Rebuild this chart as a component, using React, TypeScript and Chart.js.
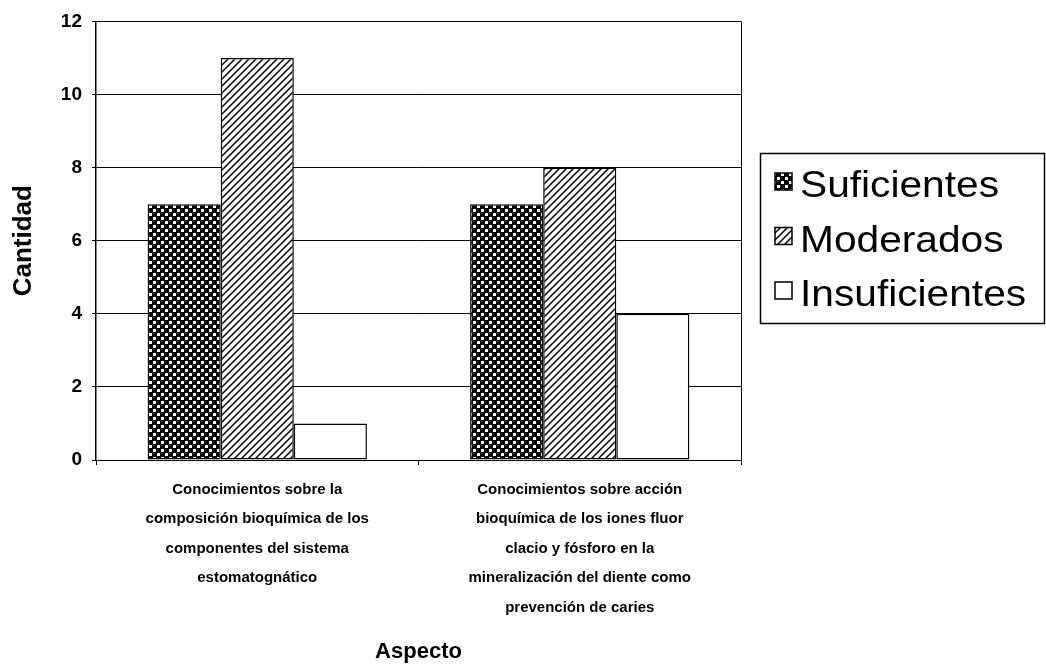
import React, { useEffect, useRef } from "react";
import { Chart, registerables } from "chart.js";

Chart.register(...registerables);

const categories: string[][] = [
  ["Conocimientos sobre la", "composición bioquímica de los", "componentes del sistema", "estomatognático"],
  ["Conocimientos sobre acción", "bioquímica de los iones fluor", "clacio y fósforo en la", "mineralización del diente como", "prevención de caries"],
];
const seriesNames = ["Suficientes", "Moderados", "Insuficientes"];
const suficientes = [7, 7];
const moderados = [11, 8];
const insuficientes = [1, 4];
const yTicks = [0, 2, 4, 6, 8, 10, 12];

const FONT = "'Liberation Sans', Arial, sans-serif";

function makeChecker(): CanvasPattern | string {
  const c = document.createElement("canvas");
  c.width = 8;
  c.height = 8;
  const g = c.getContext("2d");
  if (!g) return "#000";
  g.fillStyle = "#000";
  g.fillRect(0, 0, 8, 8);
  g.fillStyle = "#fff";
  g.fillRect(1, 1, 3, 3);
  g.fillRect(5, 5, 3, 3);
  return g.createPattern(c, "repeat") || "#000";
}

function makeHatch(): CanvasPattern | string {
  const s = 7;
  const c = document.createElement("canvas");
  c.width = s;
  c.height = s;
  const g = c.getContext("2d");
  if (!g) return "#fff";
  g.fillStyle = "#fff";
  g.fillRect(0, 0, s, s);
  g.strokeStyle = "#000";
  g.lineWidth = 1.5;
  g.beginPath();
  g.moveTo(-1, s + 1);
  g.lineTo(s + 1, -1);
  g.moveTo(-2, 2);
  g.lineTo(2, -2);
  g.moveTo(s - 2, s + 2);
  g.lineTo(s + 2, s - 2);
  g.stroke();
  return g.createPattern(c, "repeat") || "#fff";
}

const frameAndLegend = {
  id: "frameAndLegend",
  afterDraw(chart: any) {
    const ctx = chart.ctx as CanvasRenderingContext2D;
    const a = chart.chartArea;
    ctx.save();
    ctx.strokeStyle = "#000";
    ctx.lineWidth = 1;
    ctx.beginPath();
    ctx.moveTo(Math.round(a.right) + 0.5, a.top);
    ctx.lineTo(Math.round(a.right) + 0.5, a.bottom);
    ctx.stroke();

    // legend box
    ctx.lineWidth = 1.5;
    ctx.strokeRect(760.5, 153.5, 284, 170);
    const baselines = [197, 251.5, 306];
    chart.data.datasets.forEach((ds: any, i: number) => {
      const y = baselines[i];
      const my = y - 24;
      ctx.fillStyle = ds.backgroundColor;
      ctx.fillRect(775, my, 17, 17);
      ctx.lineWidth = 1.5;
      ctx.strokeStyle = "#000";
      ctx.strokeRect(775, my, 17, 17);
      ctx.save();
      ctx.translate(800, y);
      ctx.scale(1.13, 1);
      ctx.font = `36px ${FONT}`;
      ctx.textBaseline = "alphabetic";
      ctx.textAlign = "left";
      ctx.fillStyle = "#000";
      ctx.fillText(ds.label, 0, 0);
      ctx.restore();
    });
    ctx.restore();
  },
};

export default function App() {
  const ref = useRef<HTMLCanvasElement | null>(null);
  useEffect(() => {
    if (!ref.current) return;
    const checker = makeChecker();
    const hatch = makeHatch();
    const fills = [checker, hatch, "#fff"];
    const values = [suficientes, moderados, insuficientes];
    const chart = new Chart(ref.current, {
      type: "bar",
      data: {
        labels: categories,
        datasets: seriesNames.map((name, i) => ({
          label: name,
          data: values[i],
          backgroundColor: fills[i] as any,
          borderColor: "#000",
          borderWidth: 1.5,
          borderSkipped: false,
          categoryPercentage: 0.68,
          barPercentage: 1.0,
        })),
      },
      options: {
        animation: false,
        responsive: true,
        maintainAspectRatio: false,
        layout: { padding: { top: 20, right: 305, left: 0, bottom: 0 } },
        plugins: { legend: { display: false }, tooltip: { enabled: false } },
        scales: {
          x: {
            afterFit: (scale: any) => {
              scale.height = 209;
            },
            grid: {
              drawOnChartArea: false,
              drawTicks: true,
              tickLength: 5,
              color: "#000",
              offset: true,
            },
            border: { display: true, color: "#000", width: 1 },
            ticks: {
              color: "#000",
              padding: 10,
              maxRotation: 0,
              autoSkip: false,
              font: { family: FONT, size: 15, weight: "bold", lineHeight: "29.5px" as any },
            },
            title: {
              display: true,
              text: "Aspecto",
              color: "#000",
              padding: { top: 0, bottom: 4 },
              font: { family: FONT, size: 22, weight: "bold" },
            },
          },
          y: {
            min: 0,
            max: 12,
            afterFit: (scale: any) => {
              scale.width = 96;
            },
            afterBuildTicks: (scale: any) => {
              scale.ticks = yTicks.map((v) => ({ value: v }));
            },
            grid: { color: "#000", lineWidth: 1, tickLength: 4 },
            border: { display: true, color: "#000", width: 1.5 },
            ticks: {
              color: "#000",
              padding: 10,
              font: { family: FONT, size: 19, weight: "bold" },
            },
            title: {
              display: true,
              text: "Cantidad",
              color: "#000",
              padding: { top: 8, bottom: 0 },
              font: { family: FONT, size: 26, weight: "bold" },
            },
          },
        },
      },
      plugins: [frameAndLegend],
    });
    return () => chart.destroy();
  }, []);
  return (
    <div style={{ position: "absolute", left: 0, top: 0, width: 1046, height: 669, background: "#fff" }}>
      <canvas ref={ref} />
    </div>
  );
}
